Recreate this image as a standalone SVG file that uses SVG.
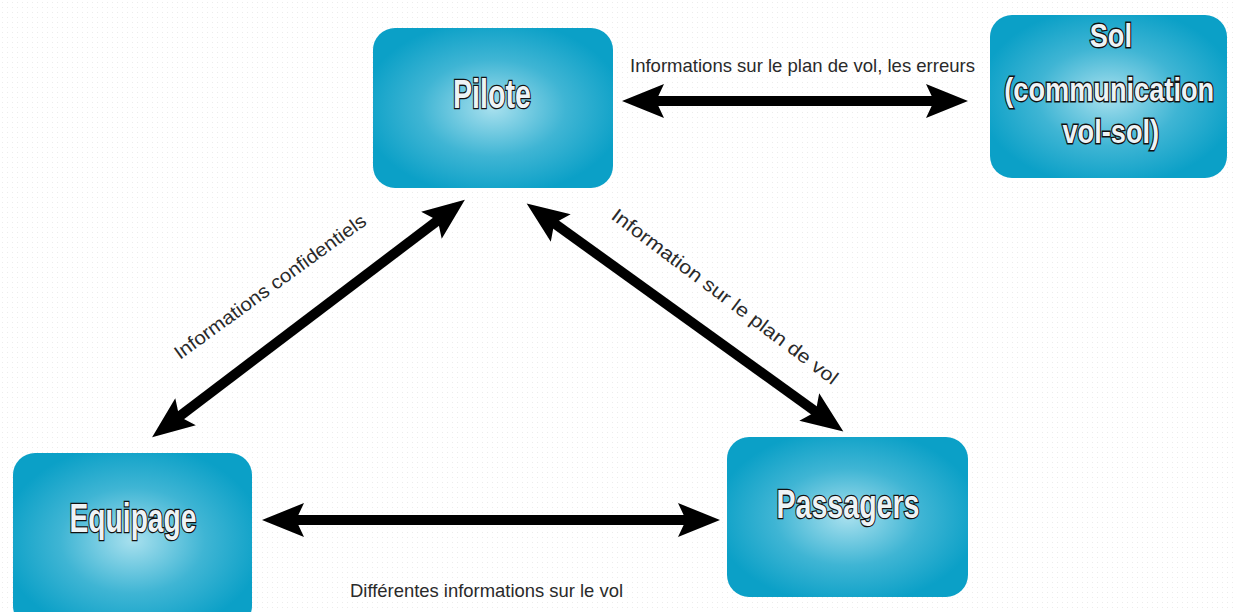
<svg xmlns="http://www.w3.org/2000/svg" width="1236" height="612" viewBox="0 0 1236 612">
<style>
.node rect{fill:url(#g);}
.nt{font-family:"Liberation Sans",Arial,sans-serif;font-weight:bold;font-size:40px;fill:#eef3f5;stroke:#111;stroke-width:2.6;paint-order:stroke;text-anchor:middle;}
.sm{font-size:34px;stroke-width:2.8;}
.lbl{font-family:"Liberation Sans",Arial,sans-serif;font-size:19px;fill:#2a2a2a;}
.conn path{fill:none;stroke:#000;stroke-width:10;marker-start:url(#ah);marker-end:url(#ah);}
</style>
<defs>
<pattern id="dots" width="5" height="5" patternUnits="userSpaceOnUse"><rect x="2" y="2" width="1" height="1" fill="#ececec"/></pattern>
<radialGradient id="g" cx="50%" cy="50%" r="55%">
<stop offset="0" stop-color="#a8e0ee"/>
<stop offset="0.55" stop-color="#3fb5d4"/>
<stop offset="1" stop-color="#0ba0c7"/>
</radialGradient>
<marker id="ah" viewBox="-44 -18 46 36" refX="-30" refY="0" markerWidth="46" markerHeight="36" markerUnits="userSpaceOnUse" orient="auto-start-reverse">
<path d="M0,0 L-42,-17 L-34,0 L-42,17 Z" fill="#000"/>
</marker>
</defs>
<rect width="1236" height="612" fill="#fff"/>
<rect width="1236" height="612" fill="url(#dots)"/>
<g id="pilote" class="node"><rect x="373" y="28" width="240" height="160" rx="22"/><text class="nt" x="492" y="108" textLength="78" lengthAdjust="spacingAndGlyphs">Pilote</text></g>
<g id="sol" class="node"><rect x="990" y="15" width="237" height="163" rx="22"/>
<g transform="translate(1110,0) scale(0.8,1)">
<text class="nt sm" x="1" y="47">Sol</text>
<text class="nt sm" x="-1" y="101">(communication</text>
<text class="nt sm" x="1" y="143">vol-sol)</text>
</g></g>
<g id="equipage" class="node"><rect x="13" y="453" width="239" height="175" rx="22"/><text class="nt" x="133" y="532" textLength="127" lengthAdjust="spacingAndGlyphs">Equipage</text></g>
<g id="passagers" class="node"><rect x="727" y="437" width="241" height="160" rx="22"/><text class="nt" x="848" y="518" textLength="143" lengthAdjust="spacingAndGlyphs">Passagers</text></g>
<g id="connectors" class="conn">
<path d="M652,101 L938,101"/>
<path d="M292,520 L690,520"/>
<path d="M176,419 L441,218"/>
<path d="M551,221 L819,414"/>
</g>
<g id="labels">
<text class="lbl" x="630" y="72" textLength="345" lengthAdjust="spacingAndGlyphs">Informations sur le plan de vol, les erreurs</text>
<text class="lbl" x="350" y="597" textLength="273" lengthAdjust="spacingAndGlyphs">Différentes informations sur le vol</text>
<text class="lbl" transform="translate(180,360) rotate(-36)" textLength="232" lengthAdjust="spacingAndGlyphs">Informations confidentiels</text>
<text class="lbl" transform="translate(610,218) rotate(37)" textLength="278" lengthAdjust="spacingAndGlyphs">Information sur le plan de vol</text>
</g>
</svg>
